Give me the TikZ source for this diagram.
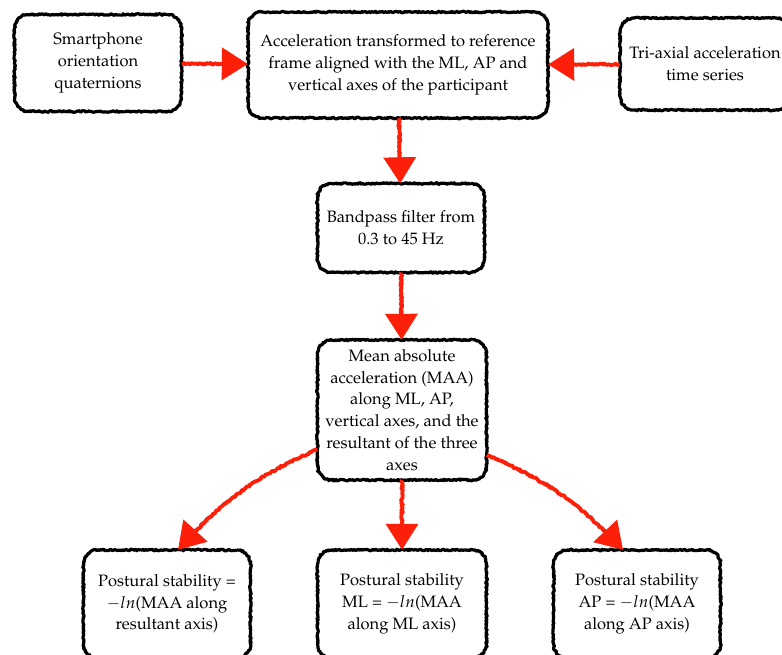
\documentclass[tikz,border=0pt]{standalone}
\usepackage[T1]{fontenc}
\usepackage{mathpazo}
\usetikzlibrary{arrows.meta,decorations.pathmorphing}
\definecolor{flowred}{RGB}{252,32,10}
\tikzset{
  box/.style={rounded corners=14pt, align=center, inner sep=0pt,
    postaction={draw, sharp corners, line width=3.2pt, line join=round, decorate,
      decoration={random steps, segment length=1.2pt, amplitude=0.8pt}},
    font=\fontsize{16.5}{21.7}\selectfont},
  flow/.style={draw=flowred, line width=3.8pt, line join=round, decorate,
    decoration={random steps, segment length=1.2pt, amplitude=0.9pt, post length=4pt},
    -{Triangle[length=26pt, width=32pt]}}
}
\begin{document}
\begin{tikzpicture}[x=1pt, y=-1pt]
\useasboundingbox (0,0) rectangle (782,655);

% Eingangsdaten
\node[box, minimum width=167pt, minimum height=97pt] (phone) at (98,63) {Smartphone\\orientation\\quaternions};
\node[box, minimum width=300pt, minimum height=106pt] (frame) at (398,65) {Acceleration transformed to reference\\frame aligned with the ML, AP and\\vertical axes of the participant};
\node[box, minimum width=170pt, minimum height=92pt] (triax) at (705,64) {Tri-axial acceleration\\time series};

% Verarbeitung
\node[box, minimum width=167pt, minimum height=89pt] (filter) at (401,228) {Bandpass filter from\\0.3 to 45 Hz};
\node[box, minimum width=169pt, minimum height=140pt] (maa) at (402,410) {Mean absolute\\acceleration (MAA)\\along ML, AP,\\vertical axes, and the\\resultant of the three\\axes};

% Ergebnisse
\node[box, minimum width=167pt, minimum height=108pt] (psres) at (167,604) {Postural stability =\\$-ln$(MAA along\\resultant axis)};
\node[box, minimum width=169pt, minimum height=108pt] (psml) at (402,604) {Postural stability\\ML = $-ln$(MAA\\along ML axis)};
\node[box, minimum width=167pt, minimum height=108pt] (psap) at (637,604) {Postural stability\\AP = $-ln$(MAA\\along AP axis)};

% Pfeile
\draw[flow] (phone) -- (frame);
\draw[flow] (triax) -- (frame);
\draw[flow] (frame) -- (filter);
\draw[flow] (filter) -- (maa);
\draw[flow] (maa) -- (psml);
\draw[flow] (maa.205) to[bend right=12] ([xshift=11pt]psres.north);
\draw[flow] (maa.332) to[bend left=12] ([xshift=-14pt]psap.north);
\end{tikzpicture}
\end{document}
